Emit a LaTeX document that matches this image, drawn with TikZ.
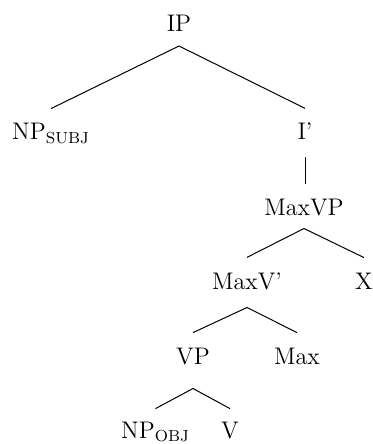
\documentclass[tikz,border=0pt]{standalone}
\usepackage{amsmath}
\usepackage{xcolor}
\usepackage{tikz}

\begin{document}
\begin{tikzpicture}[x=0.5pt, y=-0.5pt,
    cat/.style={anchor=base, inner sep=0pt, outer sep=0pt, font=\fontsize{12}{14}\selectfont},
    branch/.style={black, line width=0.5pt}]
  \useasboundingbox (0,0) rectangle (372,444);

  % Categories of the tree
  \node[cat] (ip) at (179,32) {IP};
  \node[cat] (npsubj) at (51,140) {NP\textsubscript{SUBJ}};
  \node[cat] (ibar) at (305,140) {I'};
  \node[cat] (maxvp) at (304,215) {MaxVP};
  \node[cat] (maxvbar) at (247,289) {MaxV'};
  \node[cat] (xcat) at (364,289) {X};
  \node[cat] (vp) at (193,364) {VP};
  \node[cat] (max) at (297,364) {Max};
  \node[cat] (npobj) at (155.5,438) {NP\textsubscript{OBJ}};
  \node[cat] (v) at (230,438) {V};

  % Branches under IP
  \draw[branch] ([yshift=-7pt]ip.south) -- ([yshift=7.5pt]npsubj.north);
  \draw[branch] ([yshift=-7pt]ip.south) -- ([yshift=7.5pt]ibar.north);

  % Unary branch under I'
  \draw[branch] ([yshift=-8.5pt]ibar.south) -- ([yshift=7.5pt]ibar.south |- maxvp.north);

  % Branches under MaxVP
  \draw[branch] ([yshift=-6.5pt]maxvp.south) -- ([yshift=7.5pt]maxvbar.north);
  \draw[branch] ([yshift=-6.5pt]maxvp.south) -- ([yshift=7.5pt]xcat.north);

  % Branches under MaxV'
  \draw[branch] ([yshift=-9pt]maxvbar.south) -- ([yshift=7.5pt]vp.north);
  \draw[branch] ([yshift=-9pt]maxvbar.south) -- ([yshift=7.5pt]max.north);

  % Branches under VP
  \draw[branch] ([yshift=-12pt]vp.south) -- ([yshift=6.5pt]npobj.north);
  \draw[branch] ([yshift=-12pt]vp.south) -- ([yshift=6.5pt]v.north);
\end{tikzpicture}
\end{document}
